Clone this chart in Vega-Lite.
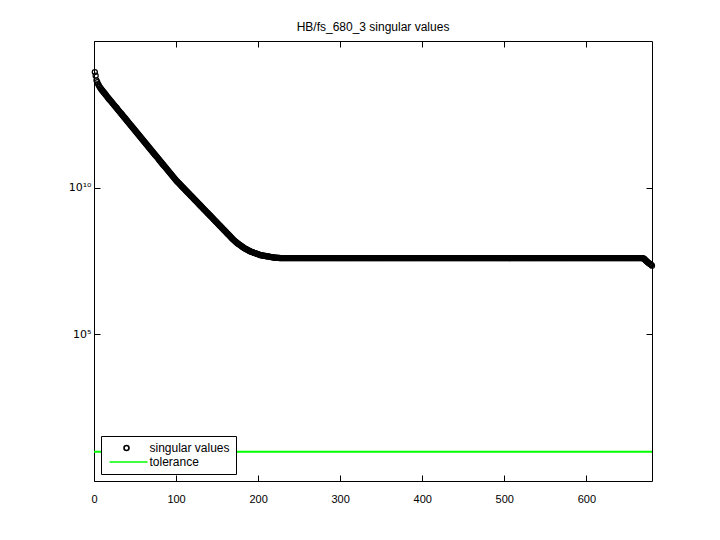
{
  "$schema": "https://vega.github.io/schema/vega-lite/v6.json",
  "width": 558,
  "height": 440,
  "autosize": "none",
  "padding": {"left": 94, "top": 41, "right": 68, "bottom": 59},
  "background": "white",
  "title": {"text": "HB/fs_680_3 singular values", "font": "Liberation Sans", "fontSize": 12, "fontWeight": "normal", "color": "black", "offset": 7},
  "config": {
    "view": {"stroke": "black", "strokeWidth": 1},
    "axis": {"domain": false, "grid": false, "tickColor": "black", "tickSize": -6, "tickWidth": 1, "labelFont": "Liberation Sans", "labelFontSize": 11, "labelColor": "black", "title": null, "labelFlush": false, "labelOverlap": false},
    "legend": {"strokeColor": "black", "fillColor": "white", "padding": 6, "labelFont": "Liberation Sans", "labelFontSize": 12, "labelColor": "black", "rowPadding": 2, "cornerRadius": 0, "symbolStrokeWidth": 1.6}
  },
  "datasets": {
    "sv": [
      {"i":1,"v":8.71e13},{"i":2,"v":6.6e13},{"i":3,"v":4.57e13},{"i":4,"v":3.94e13},{"i":5,"v":3.39e13},{"i":6,"v":3.02e13},{"i":7,"v":2.69e13},{"i":8,"v":2.45e13},{"i":9,"v":2.24e13},{"i":10,"v":2.07e13},
      {"i":11,"v":1.91e13},{"i":12,"v":1.76e13},{"i":13,"v":1.62e13},{"i":14,"v":1.5e13},{"i":15,"v":1.38e13},{"i":16,"v":1.27e13},{"i":17,"v":1.17e13},{"i":18,"v":1.08e13},{"i":19,"v":1.0e13},{"i":20,"v":9.29e12},
      {"i":21,"v":8.63e12},{"i":22,"v":7.98e12},{"i":23,"v":7.38e12},{"i":24,"v":6.82e12},{"i":25,"v":6.31e12},{"i":26,"v":5.83e12},{"i":27,"v":5.4e12},{"i":28,"v":4.99e12},{"i":29,"v":4.61e12},{"i":30,"v":4.26e12},
      {"i":31,"v":3.94e12},{"i":32,"v":3.64e12},{"i":33,"v":3.37e12},{"i":34,"v":3.12e12},{"i":35,"v":2.88e12},{"i":36,"v":2.66e12},{"i":37,"v":2.47e12},{"i":38,"v":2.28e12},{"i":39,"v":2.11e12},{"i":40,"v":1.95e12},
      {"i":41,"v":1.8e12},{"i":42,"v":1.66e12},{"i":43,"v":1.54e12},{"i":44,"v":1.42e12},{"i":45,"v":1.32e12},{"i":46,"v":1.22e12},{"i":47,"v":1.13e12},{"i":48,"v":1.04e12},{"i":49,"v":9.64e11},{"i":50,"v":8.91e11},
      {"i":51,"v":8.24e11},{"i":52,"v":7.62e11},{"i":53,"v":7.05e11},{"i":54,"v":6.52e11},{"i":55,"v":6.03e11},{"i":56,"v":5.58e11},{"i":57,"v":5.15e11},{"i":58,"v":4.76e11},{"i":59,"v":4.41e11},{"i":60,"v":4.08e11},
      {"i":61,"v":3.77e11},{"i":62,"v":3.49e11},{"i":63,"v":3.22e11},{"i":64,"v":2.98e11},{"i":65,"v":2.75e11},{"i":66,"v":2.54e11},{"i":67,"v":2.36e11},{"i":68,"v":2.18e11},{"i":69,"v":2.01e11},{"i":70,"v":1.86e11},
      {"i":71,"v":1.72e11},{"i":72,"v":1.59e11},{"i":73,"v":1.47e11},{"i":74,"v":1.36e11},{"i":75,"v":1.26e11},{"i":76,"v":1.17e11},{"i":77,"v":1.08e11},{"i":78,"v":9.99e10},{"i":79,"v":9.2e10},{"i":80,"v":8.51e10},
      {"i":81,"v":7.87e10},{"i":82,"v":7.28e10},{"i":83,"v":6.73e10},{"i":84,"v":6.22e10},{"i":85,"v":5.75e10},{"i":86,"v":5.32e10},{"i":87,"v":4.92e10},{"i":88,"v":4.55e10},{"i":89,"v":4.21e10},{"i":90,"v":3.89e10},
      {"i":91,"v":3.6e10},{"i":92,"v":3.33e10},{"i":93,"v":3.08e10},{"i":94,"v":2.85e10},{"i":95,"v":2.63e10},{"i":96,"v":2.43e10},{"i":97,"v":2.25e10},{"i":98,"v":2.08e10},{"i":99,"v":1.92e10},{"i":100,"v":1.785e10},
      {"i":101,"v":1.66e10},{"i":102,"v":1.55e10},{"i":103,"v":1.46e10},{"i":104,"v":1.37e10},{"i":105,"v":1.27e10},{"i":106,"v":1.19e10},{"i":107,"v":1.11e10},{"i":108,"v":1.04e10},{"i":109,"v":9.75e9},{"i":110,"v":9.12e9},
      {"i":111,"v":8.53e9},{"i":112,"v":7.98e9},{"i":113,"v":7.46e9},{"i":114,"v":6.98e9},{"i":115,"v":6.53e9},{"i":116,"v":6.11e9},{"i":117,"v":5.71e9},{"i":118,"v":5.34e9},{"i":119,"v":5.0e9},{"i":120,"v":4.68e9},
      {"i":121,"v":4.38e9},{"i":122,"v":4.1e9},{"i":123,"v":3.83e9},{"i":124,"v":3.58e9},{"i":125,"v":3.35e9},{"i":126,"v":3.13e9},{"i":127,"v":2.93e9},{"i":128,"v":2.74e9},{"i":129,"v":2.56e9},{"i":130,"v":2.39e9},
      {"i":131,"v":2.24e9},{"i":132,"v":2.1e9},{"i":133,"v":1.96e9},{"i":134,"v":1.83e9},{"i":135,"v":1.72e9},{"i":136,"v":1.61e9},{"i":137,"v":1.5e9},{"i":138,"v":1.4e9},{"i":139,"v":1.32e9},{"i":140,"v":1.23e9},
      {"i":141,"v":1.15e9},{"i":142,"v":1.08e9},{"i":143,"v":1.01e9},{"i":144,"v":9.45e8},{"i":145,"v":8.81e8},{"i":146,"v":8.24e8},{"i":147,"v":7.71e8},{"i":148,"v":7.21e8},{"i":149,"v":6.75e8},{"i":150,"v":6.31e8},
      {"i":151,"v":5.9e8},{"i":152,"v":5.52e8},{"i":153,"v":5.16e8},{"i":154,"v":4.83e8},{"i":155,"v":4.52e8},{"i":156,"v":4.23e8},{"i":157,"v":3.95e8},{"i":158,"v":3.69e8},{"i":159,"v":3.46e8},{"i":160,"v":3.24e8},
      {"i":161,"v":3.03e8},{"i":162,"v":2.83e8},{"i":163,"v":2.65e8},{"i":164,"v":2.48e8},{"i":165,"v":2.32e8},{"i":166,"v":2.17e8},{"i":167,"v":2.03e8},{"i":168,"v":1.9e8},{"i":169,"v":1.77e8},{"i":170,"v":1.67e8},
      {"i":171,"v":1.57e8},{"i":172,"v":1.48e8},{"i":173,"v":1.4e8},{"i":174,"v":1.33e8},{"i":175,"v":1.26e8},{"i":176,"v":1.2e8},{"i":177,"v":1.15e8},{"i":178,"v":1.1e8},{"i":179,"v":1.05e8},{"i":180,"v":1.0e8},
      {"i":181,"v":9.55e7},{"i":182,"v":9.12e7},{"i":183,"v":8.71e7},{"i":184,"v":8.41e7},{"i":185,"v":8.13e7},{"i":186,"v":7.86e7},{"i":187,"v":7.59e7},{"i":188,"v":7.33e7},{"i":189,"v":7.08e7},{"i":190,"v":6.84e7},
      {"i":191,"v":6.61e7},{"i":192,"v":6.46e7},{"i":193,"v":6.31e7},{"i":194,"v":6.17e7},{"i":195,"v":6.03e7},{"i":196,"v":5.89e7},{"i":197,"v":5.75e7},{"i":198,"v":5.62e7},{"i":199,"v":5.5e7},{"i":200,"v":5.37e7},
      {"i":201,"v":5.25e7},{"i":202,"v":5.13e7},{"i":203,"v":5.01e7},{"i":204,"v":4.96e7},{"i":205,"v":4.9e7},{"i":206,"v":4.85e7},{"i":207,"v":4.79e7},{"i":208,"v":4.74e7},{"i":209,"v":4.68e7},{"i":210,"v":4.62e7},
      {"i":211,"v":4.57e7},{"i":212,"v":4.52e7},{"i":213,"v":4.47e7},{"i":214,"v":4.42e7},{"i":215,"v":4.37e7},{"i":216,"v":4.32e7},{"i":217,"v":4.27e7},{"i":218,"v":4.22e7},{"i":219,"v":4.17e7},{"i":220,"v":4.14e7},
      {"i":221,"v":4.12e7},{"i":222,"v":4.09e7},{"i":223,"v":4.07e7},{"i":224,"v":4.05e7},{"i":225,"v":4.03e7},{"i":226,"v":4.0e7},{"i":227,"v":3.98e7},{"i":228,"v":3.98e7},{"i":229,"v":3.98e7},{"i":230,"v":3.98e7},
      {"i":231,"v":3.98e7},{"i":232,"v":3.98e7},{"i":233,"v":3.98e7},{"i":234,"v":3.98e7},{"i":235,"v":3.98e7},{"i":236,"v":3.98e7},{"i":237,"v":3.98e7},{"i":238,"v":3.98e7},{"i":239,"v":3.98e7},{"i":240,"v":3.98e7},
      {"i":241,"v":3.98e7},{"i":242,"v":3.98e7},{"i":243,"v":3.98e7},{"i":244,"v":3.98e7},{"i":245,"v":3.98e7},{"i":246,"v":3.98e7},{"i":247,"v":3.98e7},{"i":248,"v":3.98e7},{"i":249,"v":3.98e7},{"i":250,"v":3.98e7},
      {"i":251,"v":3.98e7},{"i":252,"v":3.98e7},{"i":253,"v":3.98e7},{"i":254,"v":3.98e7},{"i":255,"v":3.98e7},{"i":256,"v":3.98e7},{"i":257,"v":3.98e7},{"i":258,"v":3.98e7},{"i":259,"v":3.98e7},{"i":260,"v":3.98e7},
      {"i":261,"v":3.98e7},{"i":262,"v":3.98e7},{"i":263,"v":3.98e7},{"i":264,"v":3.98e7},{"i":265,"v":3.98e7},{"i":266,"v":3.98e7},{"i":267,"v":3.98e7},{"i":268,"v":3.98e7},{"i":269,"v":3.98e7},{"i":270,"v":3.98e7},
      {"i":271,"v":3.98e7},{"i":272,"v":3.98e7},{"i":273,"v":3.98e7},{"i":274,"v":3.98e7},{"i":275,"v":3.98e7},{"i":276,"v":3.98e7},{"i":277,"v":3.98e7},{"i":278,"v":3.98e7},{"i":279,"v":3.98e7},{"i":280,"v":3.98e7},
      {"i":281,"v":3.98e7},{"i":282,"v":3.98e7},{"i":283,"v":3.98e7},{"i":284,"v":3.98e7},{"i":285,"v":3.98e7},{"i":286,"v":3.98e7},{"i":287,"v":3.98e7},{"i":288,"v":3.98e7},{"i":289,"v":3.98e7},{"i":290,"v":3.98e7},
      {"i":291,"v":3.98e7},{"i":292,"v":3.98e7},{"i":293,"v":3.98e7},{"i":294,"v":3.98e7},{"i":295,"v":3.98e7},{"i":296,"v":3.98e7},{"i":297,"v":3.98e7},{"i":298,"v":3.98e7},{"i":299,"v":3.98e7},{"i":300,"v":3.98e7},
      {"i":301,"v":3.98e7},{"i":302,"v":3.98e7},{"i":303,"v":3.98e7},{"i":304,"v":3.98e7},{"i":305,"v":3.98e7},{"i":306,"v":3.98e7},{"i":307,"v":3.98e7},{"i":308,"v":3.98e7},{"i":309,"v":3.98e7},{"i":310,"v":3.98e7},
      {"i":311,"v":3.98e7},{"i":312,"v":3.98e7},{"i":313,"v":3.98e7},{"i":314,"v":3.98e7},{"i":315,"v":3.98e7},{"i":316,"v":3.98e7},{"i":317,"v":3.98e7},{"i":318,"v":3.98e7},{"i":319,"v":3.98e7},{"i":320,"v":3.98e7},
      {"i":321,"v":3.98e7},{"i":322,"v":3.98e7},{"i":323,"v":3.98e7},{"i":324,"v":3.98e7},{"i":325,"v":3.98e7},{"i":326,"v":3.98e7},{"i":327,"v":3.98e7},{"i":328,"v":3.98e7},{"i":329,"v":3.98e7},{"i":330,"v":3.98e7},
      {"i":331,"v":3.98e7},{"i":332,"v":3.98e7},{"i":333,"v":3.98e7},{"i":334,"v":3.98e7},{"i":335,"v":3.98e7},{"i":336,"v":3.98e7},{"i":337,"v":3.98e7},{"i":338,"v":3.98e7},{"i":339,"v":3.98e7},{"i":340,"v":3.98e7},
      {"i":341,"v":3.98e7},{"i":342,"v":3.98e7},{"i":343,"v":3.98e7},{"i":344,"v":3.98e7},{"i":345,"v":3.98e7},{"i":346,"v":3.98e7},{"i":347,"v":3.98e7},{"i":348,"v":3.98e7},{"i":349,"v":3.98e7},{"i":350,"v":3.98e7},
      {"i":351,"v":3.98e7},{"i":352,"v":3.98e7},{"i":353,"v":3.98e7},{"i":354,"v":3.98e7},{"i":355,"v":3.98e7},{"i":356,"v":3.98e7},{"i":357,"v":3.98e7},{"i":358,"v":3.98e7},{"i":359,"v":3.98e7},{"i":360,"v":3.98e7},
      {"i":361,"v":3.98e7},{"i":362,"v":3.98e7},{"i":363,"v":3.98e7},{"i":364,"v":3.98e7},{"i":365,"v":3.98e7},{"i":366,"v":3.98e7},{"i":367,"v":3.98e7},{"i":368,"v":3.98e7},{"i":369,"v":3.98e7},{"i":370,"v":3.98e7},
      {"i":371,"v":3.98e7},{"i":372,"v":3.98e7},{"i":373,"v":3.98e7},{"i":374,"v":3.98e7},{"i":375,"v":3.98e7},{"i":376,"v":3.98e7},{"i":377,"v":3.98e7},{"i":378,"v":3.98e7},{"i":379,"v":3.98e7},{"i":380,"v":3.98e7},
      {"i":381,"v":3.98e7},{"i":382,"v":3.98e7},{"i":383,"v":3.98e7},{"i":384,"v":3.98e7},{"i":385,"v":3.98e7},{"i":386,"v":3.98e7},{"i":387,"v":3.98e7},{"i":388,"v":3.98e7},{"i":389,"v":3.98e7},{"i":390,"v":3.98e7},
      {"i":391,"v":3.98e7},{"i":392,"v":3.98e7},{"i":393,"v":3.98e7},{"i":394,"v":3.98e7},{"i":395,"v":3.98e7},{"i":396,"v":3.98e7},{"i":397,"v":3.98e7},{"i":398,"v":3.98e7},{"i":399,"v":3.98e7},{"i":400,"v":3.98e7},
      {"i":401,"v":3.98e7},{"i":402,"v":3.98e7},{"i":403,"v":3.98e7},{"i":404,"v":3.98e7},{"i":405,"v":3.98e7},{"i":406,"v":3.98e7},{"i":407,"v":3.98e7},{"i":408,"v":3.98e7},{"i":409,"v":3.98e7},{"i":410,"v":3.98e7},
      {"i":411,"v":3.98e7},{"i":412,"v":3.98e7},{"i":413,"v":3.98e7},{"i":414,"v":3.98e7},{"i":415,"v":3.98e7},{"i":416,"v":3.98e7},{"i":417,"v":3.98e7},{"i":418,"v":3.98e7},{"i":419,"v":3.98e7},{"i":420,"v":3.98e7},
      {"i":421,"v":3.98e7},{"i":422,"v":3.98e7},{"i":423,"v":3.98e7},{"i":424,"v":3.98e7},{"i":425,"v":3.98e7},{"i":426,"v":3.98e7},{"i":427,"v":3.98e7},{"i":428,"v":3.98e7},{"i":429,"v":3.98e7},{"i":430,"v":3.98e7},
      {"i":431,"v":3.98e7},{"i":432,"v":3.98e7},{"i":433,"v":3.98e7},{"i":434,"v":3.98e7},{"i":435,"v":3.98e7},{"i":436,"v":3.98e7},{"i":437,"v":3.98e7},{"i":438,"v":3.98e7},{"i":439,"v":3.98e7},{"i":440,"v":3.98e7},
      {"i":441,"v":3.98e7},{"i":442,"v":3.98e7},{"i":443,"v":3.98e7},{"i":444,"v":3.98e7},{"i":445,"v":3.98e7},{"i":446,"v":3.98e7},{"i":447,"v":3.98e7},{"i":448,"v":3.98e7},{"i":449,"v":3.98e7},{"i":450,"v":3.98e7},
      {"i":451,"v":3.98e7},{"i":452,"v":3.98e7},{"i":453,"v":3.98e7},{"i":454,"v":3.98e7},{"i":455,"v":3.98e7},{"i":456,"v":3.98e7},{"i":457,"v":3.98e7},{"i":458,"v":3.98e7},{"i":459,"v":3.98e7},{"i":460,"v":3.98e7},
      {"i":461,"v":3.98e7},{"i":462,"v":3.98e7},{"i":463,"v":3.98e7},{"i":464,"v":3.98e7},{"i":465,"v":3.98e7},{"i":466,"v":3.98e7},{"i":467,"v":3.98e7},{"i":468,"v":3.98e7},{"i":469,"v":3.98e7},{"i":470,"v":3.98e7},
      {"i":471,"v":3.98e7},{"i":472,"v":3.98e7},{"i":473,"v":3.98e7},{"i":474,"v":3.98e7},{"i":475,"v":3.98e7},{"i":476,"v":3.98e7},{"i":477,"v":3.98e7},{"i":478,"v":3.98e7},{"i":479,"v":3.98e7},{"i":480,"v":3.98e7},
      {"i":481,"v":3.98e7},{"i":482,"v":3.98e7},{"i":483,"v":3.98e7},{"i":484,"v":3.98e7},{"i":485,"v":3.98e7},{"i":486,"v":3.98e7},{"i":487,"v":3.98e7},{"i":488,"v":3.98e7},{"i":489,"v":3.98e7},{"i":490,"v":3.98e7},
      {"i":491,"v":3.98e7},{"i":492,"v":3.98e7},{"i":493,"v":3.98e7},{"i":494,"v":3.98e7},{"i":495,"v":3.98e7},{"i":496,"v":3.98e7},{"i":497,"v":3.98e7},{"i":498,"v":3.98e7},{"i":499,"v":3.98e7},{"i":500,"v":3.98e7},
      {"i":501,"v":3.98e7},{"i":502,"v":3.98e7},{"i":503,"v":3.98e7},{"i":504,"v":3.98e7},{"i":505,"v":3.98e7},{"i":506,"v":3.98e7},{"i":507,"v":3.98e7},{"i":508,"v":3.98e7},{"i":509,"v":3.98e7},{"i":510,"v":3.98e7},
      {"i":511,"v":3.98e7},{"i":512,"v":3.98e7},{"i":513,"v":3.98e7},{"i":514,"v":3.98e7},{"i":515,"v":3.98e7},{"i":516,"v":3.98e7},{"i":517,"v":3.98e7},{"i":518,"v":3.98e7},{"i":519,"v":3.98e7},{"i":520,"v":3.98e7},
      {"i":521,"v":3.98e7},{"i":522,"v":3.98e7},{"i":523,"v":3.98e7},{"i":524,"v":3.98e7},{"i":525,"v":3.98e7},{"i":526,"v":3.98e7},{"i":527,"v":3.98e7},{"i":528,"v":3.98e7},{"i":529,"v":3.98e7},{"i":530,"v":3.98e7},
      {"i":531,"v":3.98e7},{"i":532,"v":3.98e7},{"i":533,"v":3.98e7},{"i":534,"v":3.98e7},{"i":535,"v":3.98e7},{"i":536,"v":3.98e7},{"i":537,"v":3.98e7},{"i":538,"v":3.98e7},{"i":539,"v":3.98e7},{"i":540,"v":3.98e7},
      {"i":541,"v":3.98e7},{"i":542,"v":3.98e7},{"i":543,"v":3.98e7},{"i":544,"v":3.98e7},{"i":545,"v":3.98e7},{"i":546,"v":3.98e7},{"i":547,"v":3.98e7},{"i":548,"v":3.98e7},{"i":549,"v":3.98e7},{"i":550,"v":3.98e7},
      {"i":551,"v":3.98e7},{"i":552,"v":3.98e7},{"i":553,"v":3.98e7},{"i":554,"v":3.98e7},{"i":555,"v":3.98e7},{"i":556,"v":3.98e7},{"i":557,"v":3.98e7},{"i":558,"v":3.98e7},{"i":559,"v":3.98e7},{"i":560,"v":3.98e7},
      {"i":561,"v":3.98e7},{"i":562,"v":3.98e7},{"i":563,"v":3.98e7},{"i":564,"v":3.98e7},{"i":565,"v":3.98e7},{"i":566,"v":3.98e7},{"i":567,"v":3.98e7},{"i":568,"v":3.98e7},{"i":569,"v":3.98e7},{"i":570,"v":3.98e7},
      {"i":571,"v":3.98e7},{"i":572,"v":3.98e7},{"i":573,"v":3.98e7},{"i":574,"v":3.98e7},{"i":575,"v":3.98e7},{"i":576,"v":3.98e7},{"i":577,"v":3.98e7},{"i":578,"v":3.98e7},{"i":579,"v":3.98e7},{"i":580,"v":3.98e7},
      {"i":581,"v":3.98e7},{"i":582,"v":3.98e7},{"i":583,"v":3.98e7},{"i":584,"v":3.98e7},{"i":585,"v":3.98e7},{"i":586,"v":3.98e7},{"i":587,"v":3.98e7},{"i":588,"v":3.98e7},{"i":589,"v":3.98e7},{"i":590,"v":3.98e7},
      {"i":591,"v":3.98e7},{"i":592,"v":3.98e7},{"i":593,"v":3.98e7},{"i":594,"v":3.98e7},{"i":595,"v":3.98e7},{"i":596,"v":3.98e7},{"i":597,"v":3.98e7},{"i":598,"v":3.98e7},{"i":599,"v":3.98e7},{"i":600,"v":3.98e7},
      {"i":601,"v":3.98e7},{"i":602,"v":3.98e7},{"i":603,"v":3.98e7},{"i":604,"v":3.98e7},{"i":605,"v":3.98e7},{"i":606,"v":3.98e7},{"i":607,"v":3.98e7},{"i":608,"v":3.98e7},{"i":609,"v":3.98e7},{"i":610,"v":3.98e7},
      {"i":611,"v":3.98e7},{"i":612,"v":3.98e7},{"i":613,"v":3.98e7},{"i":614,"v":3.98e7},{"i":615,"v":3.98e7},{"i":616,"v":3.98e7},{"i":617,"v":3.98e7},{"i":618,"v":3.98e7},{"i":619,"v":3.98e7},{"i":620,"v":3.98e7},
      {"i":621,"v":3.98e7},{"i":622,"v":3.98e7},{"i":623,"v":3.98e7},{"i":624,"v":3.98e7},{"i":625,"v":3.98e7},{"i":626,"v":3.98e7},{"i":627,"v":3.98e7},{"i":628,"v":3.98e7},{"i":629,"v":3.98e7},{"i":630,"v":3.98e7},
      {"i":631,"v":3.98e7},{"i":632,"v":3.98e7},{"i":633,"v":3.98e7},{"i":634,"v":3.98e7},{"i":635,"v":3.98e7},{"i":636,"v":3.98e7},{"i":637,"v":3.98e7},{"i":638,"v":3.98e7},{"i":639,"v":3.98e7},{"i":640,"v":3.98e7},
      {"i":641,"v":3.98e7},{"i":642,"v":3.98e7},{"i":643,"v":3.98e7},{"i":644,"v":3.98e7},{"i":645,"v":3.98e7},{"i":646,"v":3.98e7},{"i":647,"v":3.98e7},{"i":648,"v":3.98e7},{"i":649,"v":3.98e7},{"i":650,"v":3.98e7},
      {"i":651,"v":3.98e7},{"i":652,"v":3.98e7},{"i":653,"v":3.98e7},{"i":654,"v":3.98e7},{"i":655,"v":3.98e7},{"i":656,"v":3.98e7},{"i":657,"v":3.98e7},{"i":658,"v":3.98e7},{"i":659,"v":3.98e7},{"i":660,"v":3.98e7},
      {"i":661,"v":3.98e7},{"i":662,"v":3.98e7},{"i":663,"v":3.98e7},{"i":664,"v":3.98e7},{"i":665,"v":3.98e7},{"i":666,"v":3.98e7},{"i":667,"v":3.98e7},{"i":668,"v":3.98e7},{"i":669,"v":3.95e7},{"i":670,"v":3.8e7},
      {"i":671,"v":3.63e7},{"i":672,"v":3.38e7},{"i":673,"v":3.16e7},{"i":674,"v":2.98e7},{"i":675,"v":2.82e7},{"i":676,"v":2.69e7},{"i":677,"v":2.57e7},{"i":678,"v":2.45e7},{"i":679,"v":2.34e7},{"i":680,"v":2.19e7}
    ],
    "tol": [{"series": "tolerance", "tol": 10, "start": 0, "end": 680}]
  },
  "layer": [
    {
      "data": {"name": "sv"},
      "mark": {"type": "point", "filled": false, "size": 26, "strokeWidth": 1.2, "opacity": 1},
      "encoding": {
        "x": {"field": "i", "type": "quantitative", "scale": {"domain": [0, 680], "nice": false, "zero": false}, "axis": {"orient": "bottom", "values": [0, 100, 200, 300, 400, 500, 600], "labelPadding": 18}},
        "y": {"field": "v", "type": "quantitative", "scale": {"type": "log", "domain": [1, 1e15], "nice": false}, "axis": {"orient": "left", "values": [100000, 10000000000], "labelPadding": 9, "labelFont": "DejaVu Sans", "labelFontSize": 11, "labelExpr": "datum.value > 1e7 ? '10¹⁰' : '10⁵'"}},
        "color": {
          "datum": "singular values",
          "scale": {"domain": ["singular values", "tolerance"], "range": ["black", "#00ff00"]},
          "legend": {"title": null, "orient": "bottom-left", "offset": 7, "symbolSize": 25, "symbolOffset": 13.5, "labelOffset": 17}
        },
        "shape": {
          "datum": "singular values",
          "scale": {"domain": ["singular values", "tolerance"], "range": ["circle", "M-6.8,0H8.4"]},
          "legend": {"title": null, "orient": "bottom-left", "offset": 7, "symbolSize": 25, "symbolOffset": 13.5, "labelOffset": 17}
        }
      }
    },
    {
      "data": {"name": "tol"},
      "mark": {"type": "rule", "strokeWidth": 2},
      "encoding": {
        "x": {"field": "start", "type": "quantitative", "scale": {"domain": [0, 680], "nice": false, "zero": false}, "axis": {"orient": "top", "labels": false, "values": [0, 100, 200, 300, 400, 500, 600]}},
        "x2": {"field": "end"},
        "y": {"field": "tol", "type": "quantitative", "scale": {"type": "log", "domain": [1, 1e15], "nice": false}, "axis": {"orient": "right", "labels": false, "values": [100000, 10000000000]}},
        "color": {"datum": "tolerance"}
      }
    }
  ],
  "resolve": {"axis": {"x": "independent", "y": "independent"}}
}
